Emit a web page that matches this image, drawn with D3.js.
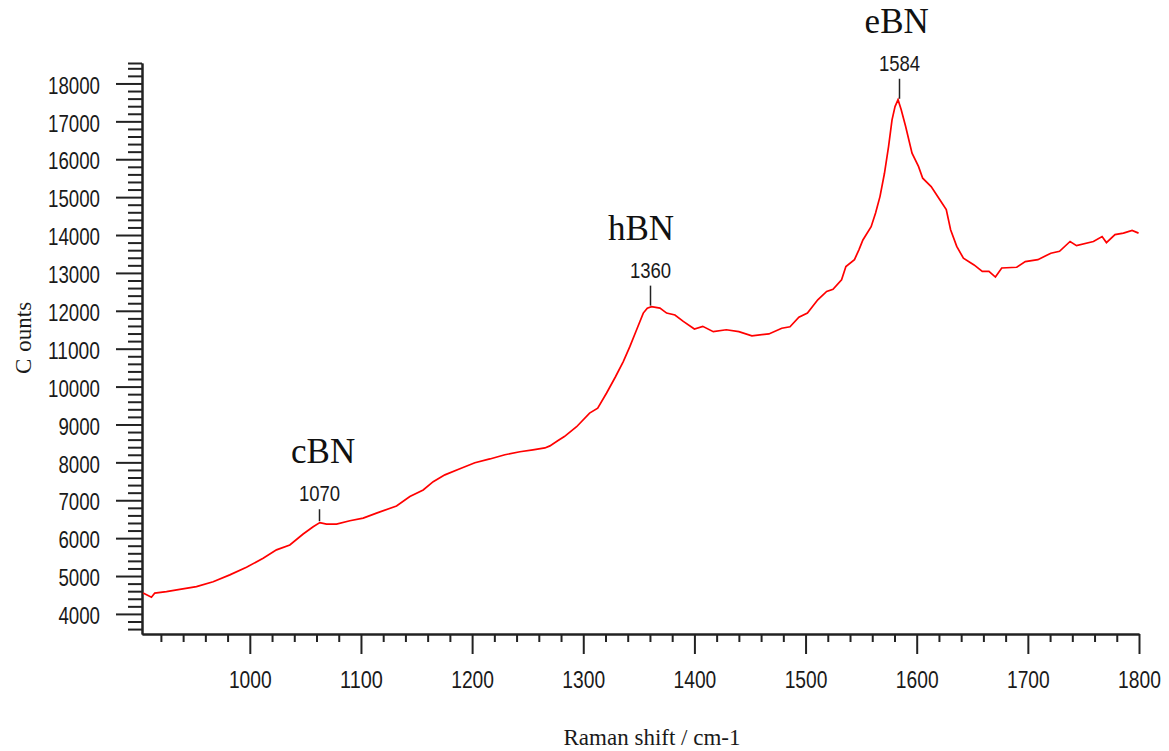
<!DOCTYPE html>
<html>
<head>
<meta charset="utf-8">
<script src="https://cdn.jsdelivr.net/npm/d3@7"></script>
<style>
  body { margin: 0; background: white; }
  .tick-lab { font-family: "Liberation Sans Narrow", "Liberation Sans", sans-serif; font-size: 23px; fill: #1a1a1a; }
  .axis path, .axis line { stroke: #222; stroke-width: 2; }
  .title { font-family: "Liberation Serif", serif; font-size: 23px; fill: #1a1a1a; }
  .name { font-family: "Liberation Serif", serif; font-size: 35px; fill: #111; }
  .spectrum { fill: none; stroke: #ff0000; stroke-width: 1.7; }
</style>
</head>
<body>
<div id="wykres_raman"></div>
<script>
// spectrum (cm-1, counts)
var wavenumber = [904, 911.5, 914.5, 925, 937, 952, 967, 982, 997, 1012, 1024, 1036, 1048, 1057, 1063, 1069,
  1078, 1090, 1102, 1114, 1132, 1144, 1156, 1165, 1175.5, 1189, 1202.5, 1216, 1229.5, 1243, 1254.7, 1265.5,
  1270, 1277, 1283, 1294, 1305.7, 1313, 1321, 1329, 1336, 1342, 1348, 1354, 1357.6, 1361.4, 1369, 1375,
  1382.5, 1390, 1400, 1407.5, 1417, 1428.7, 1440, 1451.7, 1467, 1478.6, 1486, 1494, 1501.7, 1511, 1519,
  1524.7, 1532.4, 1536.3, 1544, 1548, 1551.6, 1559, 1563, 1567, 1571, 1574.7, 1577.8, 1580.5, 1583.2, 1586,
  1590, 1595.8, 1601.6, 1605.4, 1613, 1620.8, 1626.6, 1630.5, 1636, 1642, 1651.6, 1659, 1665, 1670.8,
  1676.5, 1690, 1697.7, 1709, 1720.7, 1728.5, 1738, 1743.8, 1759, 1766.8, 1770.7, 1778.4, 1786, 1793.8, 1799.6];
var counts = [4550, 4440, 4550, 4590, 4650, 4720, 4850, 5030, 5230, 5470, 5690, 5820, 6110, 6300, 6410, 6370,
  6370, 6460, 6530, 6660, 6850, 7100, 7270, 7490, 7670, 7830, 7990, 8090, 8200, 8280, 8330, 8380,
  8435, 8570, 8680, 8940, 9300, 9430, 9830, 10260, 10660, 11060, 11500, 11940, 12070, 12110, 12070, 11940,
  11890, 11720, 11520, 11590, 11450, 11500, 11450, 11340, 11390, 11540, 11580, 11830, 11940, 12290, 12510,
  12570, 12820, 13170, 13350, 13610, 13870, 14220, 14580, 15020, 15630, 16340, 17040, 17390, 17570, 17310,
  16870, 16160, 15810, 15500, 15280, 14930, 14670, 14140, 13700, 13390, 13210, 13040, 13040, 12890,
  13130, 13150, 13300, 13350, 13520, 13570, 13830, 13720, 13830, 13960, 13800, 14010, 14050, 14120, 14050];

var xTicks = [1000, 1100, 1200, 1300, 1400, 1500, 1600, 1700, 1800];
var yTicks = [4000, 5000, 6000, 7000, 8000, 9000, 10000, 11000, 12000, 13000, 14000, 15000, 16000, 17000, 18000];

var peakPos = [1062, 1360, 1584];
var peakCounts = [6420, 12110, 17570];
var peakText = ["1070", "1360", "1584"];
var peakName = ["cBN", "hBN", "eBN"];
var peakNamePos = [1066, 1352, 1582];

var width = 1169, height = 751;

var svg = d3.select("#wykres_raman")
  .append("svg")
  .attr("width", width)
  .attr("height", height)
  .style("background", "white");

var xscale = d3.scaleLinear().domain([903, 1800]).range([142, 1139]);
var yscale = d3.scaleLinear().domain([3470, 18540]).range([634, 63]);

// narrow the digits like the original bitmap font
function squeeze(sel, perChar) {
  sel.each(function () {
    var t = d3.select(this);
    t.attr("textLength", t.text().length * perChar).attr("lengthAdjust", "spacingAndGlyphs");
  });
}

// minor ticks
var xMinor = d3.range(920, 1800, 20).filter(d => d % 100 != 0);
var yMinor = d3.range(3600, 18500, 200).filter(d => d % 1000 != 0).concat([18540]);

svg.append("g")
  .attr("class", "axis")
  .attr("transform", "translate(0,634)")
  .call(d3.axisBottom(xscale).tickValues(xMinor).tickSize(8).tickSizeOuter(0).tickFormat(""));

svg.append("g")
  .attr("class", "axis")
  .attr("transform", "translate(142,0)")
  .call(d3.axisLeft(yscale).tickValues(yMinor).tickSize(14).tickSizeOuter(0).tickFormat(""));

var xAxis = svg.append("g")
  .attr("class", "axis")
  .attr("transform", "translate(0,634)")
  .call(d3.axisBottom(xscale).tickValues(xTicks).tickSize(20).tickSizeOuter(0).tickPadding(18).tickFormat(d3.format("d")));
xAxis.selectAll("text").attr("class", "tick-lab").attr("fill", null).call(squeeze, 10.7);

var yAxis = svg.append("g")
  .attr("class", "axis")
  .attr("transform", "translate(142,0)")
  .call(d3.axisLeft(yscale).tickValues(yTicks).tickSize(26).tickSizeOuter(0).tickPadding(16).tickFormat(d3.format("d")));
yAxis.selectAll("text").attr("class", "tick-lab").attr("fill", null).attr("dy", "0.42em").call(squeeze, 10.4);
svg.selectAll(".axis .domain").attr("stroke", "#222");

// spectrum
svg.append("path")
  .datum(d3.zip(wavenumber, counts))
  .attr("class", "spectrum")
  .attr("d", d3.line()
    .x(d => xscale(d[0]))
    .y(d => yscale(d[1]))
  );

// peak markers
var markLen = [12, 20, 20];
peakPos.forEach(function (p, i) {
  var x = Math.round(xscale(p)) + 0.5;
  var yb = yscale(peakCounts[i]) - 1;
  var yt = yb - markLen[i];
  svg.append("line")
    .attr("x1", x).attr("x2", x)
    .attr("y1", yb).attr("y2", yt)
    .attr("stroke", "#222")
    .attr("stroke-width", 1.5);
  svg.append("text")
    .attr("class", "tick-lab")
    .attr("x", x)
    .attr("y", yt - 8)
    .attr("text-anchor", "middle")
    .style("font-size", "22px")
    .text(peakText[i])
    .call(squeeze, 10.3);
  svg.append("text")
    .attr("class", "name")
    .attr("x", xscale(peakNamePos[i]))
    .attr("y", yt - 46)
    .attr("text-anchor", "middle")
    .text(peakName[i]);
});

// axis titles
svg.append("text")
  .attr("class", "title")
  .attr("x", 652)
  .attr("y", 745)
  .attr("text-anchor", "middle")
  .text("Raman shift / cm-1");

var yTitle = svg.append("text")
  .attr("class", "title")
  .attr("transform", "translate(31,338)rotate(-90)")
  .attr("text-anchor", "middle");
yTitle.append("tspan").text("C");
yTitle.append("tspan").attr("dx", 7).text("ounts");
</script>
</body>
</html>
